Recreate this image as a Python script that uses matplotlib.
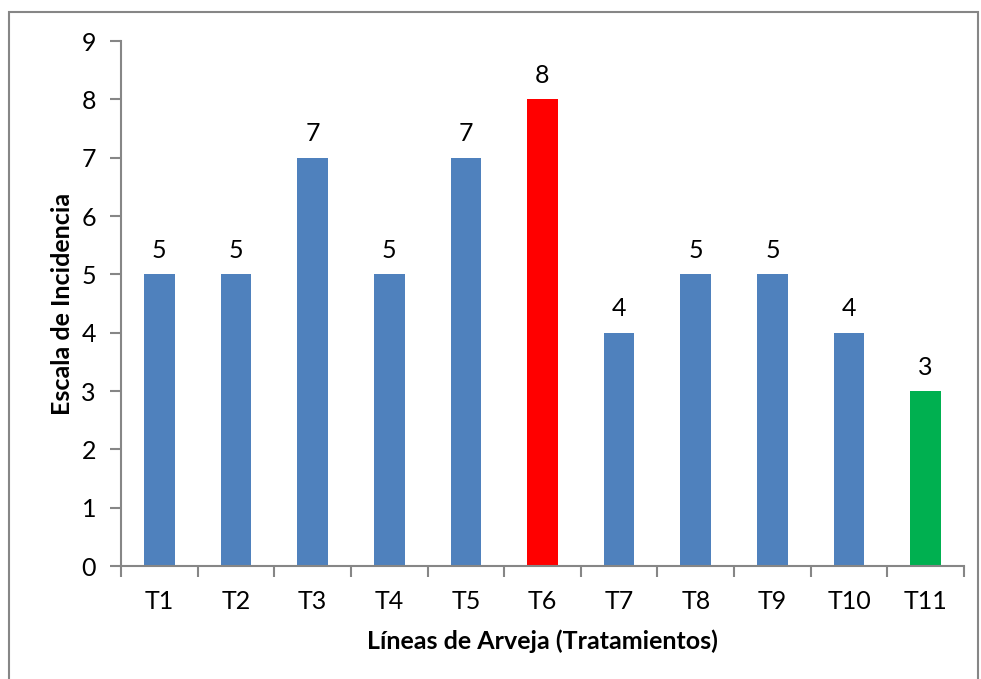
import matplotlib.pyplot as plt
from matplotlib.patches import Rectangle

plt.rcParams['font.family'] = ['Lato', 'DejaVu Sans']

# data
treatments = ["T1", "T2", "T3", "T4", "T5", "T6", "T7", "T8", "T9", "T10", "T11"]
incidence = [5, 5, 7, 5, 7, 8, 4, 5, 5, 4, 3]
bar_colors = ["#4F81BD"] * 5 + ["#FF0000"] + ["#4F81BD"] * 4 + ["#00B050"]

axis_gray = "#868686"

fig = plt.figure(figsize=(9.81, 6.79), dpi=100)
ax = fig.add_axes([0.1233, 0.1664, 0.8594, 0.7732])

x = list(range(len(treatments)))
bars = ax.bar(x, incidence, width=0.4, color=bar_colors)

for xi, v in zip(x, incidence):
    ax.annotate(
        str(v),
        (xi, v),
        xytext=(0, 9),
        textcoords="offset points",
        ha="center",
        va="bottom",
        fontsize=18
    )

ax.set_xlim(-0.5, len(treatments) - 0.5)
ax.set_ylim(0, 9)
ax.set_yticks(range(0, 10))

ax.set_xticks(x)
ax.set_xticklabels(treatments, fontsize=18)
ax.set_xticks([i - 0.5 for i in range(len(treatments) + 1)], minor=True)
ax.tick_params(axis="x", which="major", length=0, pad=17)
ax.tick_params(axis="x", which="minor", length=8, color=axis_gray, width=1.5)
ax.tick_params(axis="y", length=8, color=axis_gray, width=1.5, labelsize=18, pad=10)

for side in ["top", "right"]:
    ax.spines[side].set_visible(False)
for side in ["left", "bottom"]:
    ax.spines[side].set_color(axis_gray)
    ax.spines[side].set_linewidth(1.5)

ax.set_xlabel("Líneas de Arveja (Tratamientos)", fontsize=18, fontweight="bold", labelpad=12)
ax.set_ylabel("Escala de Incidencia", fontsize=18, fontweight="bold", labelpad=5)

# chart border
fig.patches.append(Rectangle(
    (8.5 / 981, -0.01), (978 - 8.5) / 981, 1 - 12 / 679 + 0.01,
    transform=fig.transFigure, fill=False, edgecolor=axis_gray, linewidth=1.5
))

fig.savefig("out.png", dpi=100)
